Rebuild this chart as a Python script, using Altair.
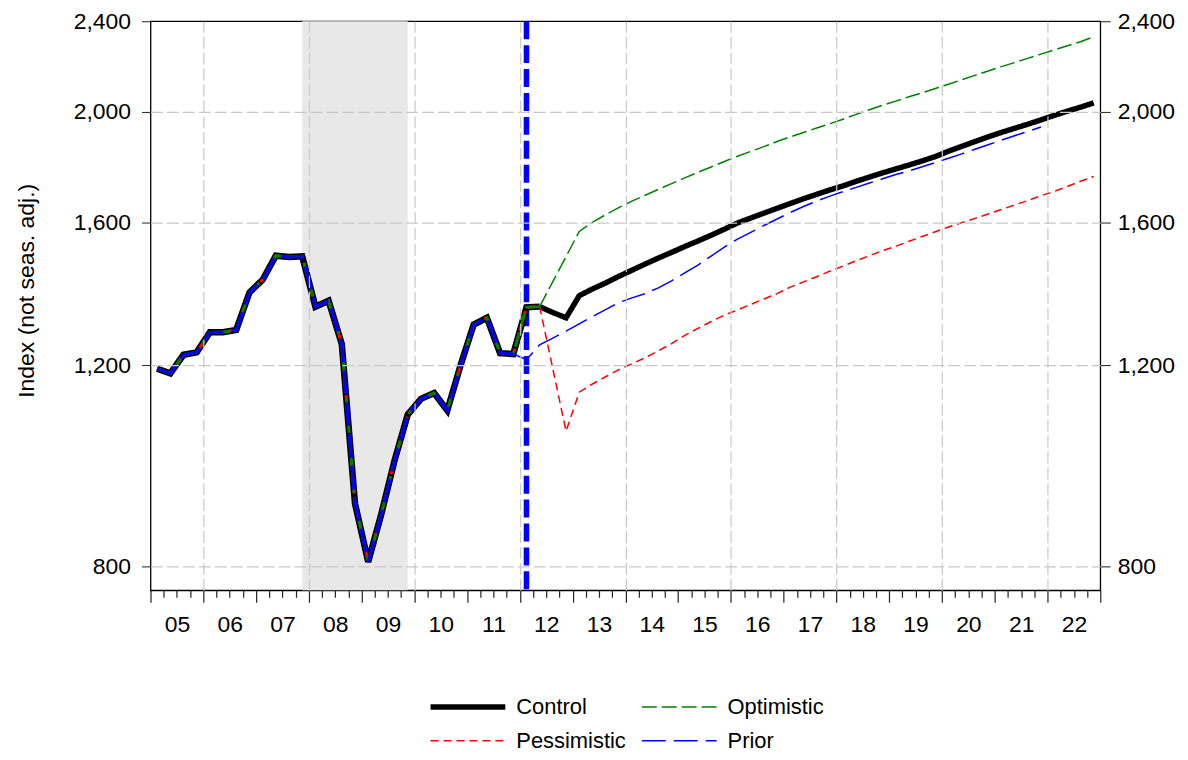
import altair as alt
import pandas as pd

FONT = "Liberation Sans"

# ---------------- data (quarterly index values) ----------------
hist_start = (2005, 1)
hist_values = [
    1191, 1180, 1225, 1231,   # 2005
    1282, 1282, 1288, 1389,   # 2006
    1425, 1496, 1492, 1494,   # 2007
    1350, 1366, 1252, 908,    # 2008
    807, 889, 990, 1086,      # 2009
    1121, 1134, 1095, 1199,   # 2010
    1302, 1320, 1229, 1227,   # 2011
    1348, 1350,               # 2012 Q1-Q2
]
prior_hist_len = 28  # prior vintage history ends 2011Q4

fc_start = (2012, 2)
control_fc = [
    1350, 1334, 1320,
    1380, 1399, 1416, 1435,
    1453, 1471, 1489, 1506,
    1524, 1541, 1559, 1578,
    1598, 1614, 1630, 1646,
    1662, 1678, 1693, 1708,
    1722, 1738, 1753, 1768,
    1782, 1796, 1811, 1827,
    1847, 1865, 1883, 1901,
    1918, 1934, 1950, 1967,
    1985, 2002, 2018, 2036,
]
pessimistic_fc = [
    1350, 1191, 1050,
    1136, 1155, 1172, 1189,
    1203, 1218, 1235, 1253,
    1274, 1292, 1310, 1327,
    1341, 1356, 1371, 1386,
    1404, 1419, 1434, 1450,
    1465, 1481, 1496, 1511,
    1525, 1540, 1555, 1570,
    1585, 1599, 1613, 1627,
    1642, 1657, 1672, 1688,
    1703, 1720, 1738, 1755,
]
optimistic_fc = [
    1350, 1420, 1493,
    1571, 1600, 1625, 1648,
    1670, 1690, 1710, 1730,
    1750, 1770, 1789, 1809,
    1828, 1846, 1864, 1883,
    1901, 1918, 1935, 1952,
    1970, 1989, 2008, 2026,
    2043, 2061, 2078, 2096,
    2114, 2133, 2152, 2171,
    2190, 2208, 2227, 2246,
    2265, 2284, 2303, 2326,
]
prior_start = (2011, 4)
prior_fc = [
    1227,
    1213, 1250, 1267, 1285,
    1304, 1323, 1342, 1361,
    1374, 1386, 1402, 1422,
    1445, 1468, 1495, 1522,
    1547, 1568, 1590, 1611,
    1632, 1652, 1670, 1687,
    1702, 1717, 1732, 1747,
    1762, 1775, 1790, 1805,
    1821, 1837, 1854, 1871,
    1888, 1905, 1922, 1939,
]

series_names = ["Control", "Optimistic", "Pessimistic", "Prior"]
series_colors = ["#000000", "#008000", "#ff0000", "#0000ff"]
series_dashes = [[1, 0], [15, 5], [8, 5], [24, 8]]
series_widths = [5.5, 1.5, 1.5, 1.5]

recession_start = [2007.875]
recession_end = [2009.875]
forecast_marker = [2012.125]

year_ticks = list(range(2005, 2024))
grid_years = list(range(2006, 2023, 2))
y_ticks = [800, 1200, 1600, 2000, 2400]
y_grid = [800, 1200, 1600, 2000]


def quarter_times(start, n):
    y, q = start
    out = []
    for _ in range(n):
        out.append(y + (q - 0.5) / 4)
        q += 1
        if q > 4:
            q = 1
            y += 1
    return out


quarter_ticks = [y + k / 4 for y in range(2005, 2023) for k in (1, 2, 3)]
label_pos = [y + 0.5 for y in range(2005, 2023)]

hist_df = pd.DataFrame({"t": quarter_times(hist_start, len(hist_values)), "value": hist_values})
prior_hist_df = hist_df.iloc[:prior_hist_len]

rows = []
for name, vals, st in [
    ("Control", control_fc, fc_start),
    ("Optimistic", optimistic_fc, fc_start),
    ("Pessimistic", pessimistic_fc, fc_start),
    ("Prior", prior_fc, prior_start),
]:
    for t, v in zip(quarter_times(st, len(vals)), vals):
        rows.append({"series": name, "t": t, "value": v})
fc_df = pd.DataFrame(rows)

rec_df = pd.DataFrame({"start": recession_start, "end": recession_end})
marker_df = pd.DataFrame({"t": forecast_marker})

# ---------------- chart ----------------
W, H = 953, 571
FS = 23
LFS = 22
xs = alt.Scale(domain=[2005, 2023], nice=False, zero=False)
ys = alt.Scale(type="log", domain=[762, 2400], nice=False)

x_grid_axis = alt.Axis(orient="bottom", values=grid_years, grid=True, gridDash=[12, 4], gridColor="#c8c8c8",
                       gridWidth=1.2, labels=False, ticks=False, domain=False, title=None, zindex=1)
x_major_axis = alt.Axis(orient="bottom", values=year_ticks, grid=False, labels=False, ticks=True, tickSize=12,
                        tickColor="#222222", tickWidth=1.2, domain=False, title=None)
x_minor_axis = alt.Axis(orient="bottom", values=quarter_ticks, grid=False, labels=False, ticks=True, tickSize=7,
                        tickColor="#222222", tickWidth=1.2, domain=False, title=None)
x_label_axis = alt.Axis(orient="bottom", values=label_pos, grid=False, ticks=False, tickSize=0, domain=False,
                        labelPadding=23, labelExpr="substring(toString(floor(datum.value)), 2)",
                        labelFontSize=FS, labelFont=FONT, title=None)
y_left_axis = alt.Axis(values=y_ticks, format=",", grid=False, ticks=True, tickSize=9,
                       tickColor="#222222", domain=False, labelPadding=11, labelFontSize=FS, labelFont=FONT,
                       title="Index (not seas. adj.)", titleFontSize=FS, titleFont=FONT, titleX=-124, titleY=270,
                       titleBaseline="middle", titleFontWeight="normal", orient="left")
y_right_axis = alt.Axis(values=y_ticks, format=",", grid=False, ticks=True, tickSize=10,
                        tickColor="#222222", domain=False, labelPadding=7, labelFontSize=FS, labelFont=FONT,
                        title=None, orient="right")
y_grid_axis = alt.Axis(values=y_grid, grid=True, gridDash=[12, 4], gridColor="#c8c8c8", gridWidth=1.2,
                       labels=False, ticks=False, domain=False, title=None, orient="left", zindex=1)

shade = alt.Chart(rec_df).mark_rect(color="#e8e8e8").encode(
    x=alt.X("start:Q", scale=xs, axis=x_grid_axis),
    x2="end:Q",
    y=alt.value(0),
    y2=alt.value(H),
)

marker = alt.Chart(marker_df).mark_rule(color="#0000ff", strokeWidth=5.5, strokeDash=[18, 6]).encode(
    x=alt.X("t:Q", scale=xs, axis=None)
)

hist_black = alt.Chart(hist_df).mark_line(color="#000000", strokeWidth=6.5).encode(
    x=alt.X("t:Q", scale=xs, axis=x_major_axis),
    y=alt.Y("value:Q", scale=ys, axis=y_left_axis),
)
hist_red = alt.Chart(hist_df).mark_line(color="#ff0000", strokeWidth=3, strokeDash=[8, 5]).encode(
    x=alt.X("t:Q", scale=xs, axis=x_minor_axis),
    y=alt.Y("value:Q", scale=ys, axis=y_right_axis),
)
hist_green = alt.Chart(hist_df).mark_line(color="#008000", strokeWidth=3, strokeDash=[15, 5]).encode(
    x=alt.X("t:Q", scale=xs, axis=x_label_axis),
    y=alt.Y("value:Q", scale=ys, axis=y_grid_axis),
)
hist_blue = alt.Chart(prior_hist_df).mark_line(color="#0000ff", strokeWidth=3.2, strokeDash=[24, 8]).encode(
    x=alt.X("t:Q", scale=xs, axis=None),
    y=alt.Y("value:Q", scale=ys, axis=None),
)

legend = alt.Legend(
    title=None, orient="none", legendX=278, legendY=675, columns=2, direction="horizontal",
    symbolType="stroke", symbolSize=5625, clipHeight=26, rowPadding=8, columnPadding=12, labelOffset=8,
    labelFont=FONT, labelFontSize=LFS, labelColor="black", padding=0, symbolLimit=10,
)

forecast = alt.Chart(fc_df).mark_line().encode(
    x=alt.X("t:Q", scale=xs, axis=None),
    y=alt.Y("value:Q", scale=ys, axis=None),
    color=alt.Color("series:N", scale=alt.Scale(domain=series_names, range=series_colors), legend=legend),
    strokeDash=alt.StrokeDash("series:N", scale=alt.Scale(domain=series_names, range=series_dashes), legend=legend),
    strokeWidth=alt.StrokeWidth("series:N", scale=alt.Scale(type="ordinal", domain=series_names, range=series_widths),
                                legend=legend),
    detail="series:N",
)

chart = (
    alt.layer(shade, marker, hist_black, hist_red, hist_green, hist_blue, forecast)
    .resolve_axis(x="independent", y="independent")
    .properties(
        width=W,
        height=H,
        autosize=alt.AutoSizeParams(type="none"),
        padding={"left": 143, "top": 12, "right": 80, "bottom": 170},
    )
    .configure_view(stroke="#000000", strokeWidth=1.3)
    .configure_axis(labelFont=FONT, titleFont=FONT, labelColor="black", titleColor="black")
    .configure_legend(labelFont=FONT)
)

chart.save("out.html", embed_options={"renderer": "svg", "actions": False})
